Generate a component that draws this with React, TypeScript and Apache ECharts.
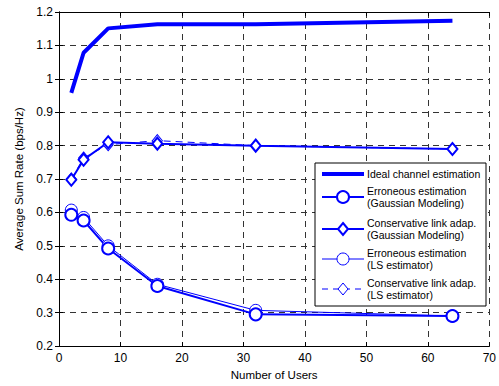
import React, { useEffect, useRef } from "react";
import * as echarts from "echarts";

const users = [2, 4, 8, 16, 32, 64];
const ideal = [0.958, 1.078, 1.151, 1.163, 1.163, 1.174];
const errGauss = [0.593, 0.576, 0.492, 0.38, 0.295, 0.29];
const consGauss = [0.698, 0.758, 0.81, 0.806, 0.8, 0.79];
const errLS = [0.607, 0.585, 0.5, 0.385, 0.307, 0.29];
const consLS = [0.7, 0.763, 0.803, 0.815, 0.8, 0.79];

const legendNames = [
  "Ideal channel estimation",
  "Erroneous estimation\n(Gaussian Modeling)",
  "Conservative link adap.\n(Gaussian Modeling)",
  "Erroneous estimation\n(LS estimator)",
  "Conservative link adap.\n(LS estimator)",
];

const BLUE = "#0000ff";
const FONT = "Liberation Sans";

const pair = (ys: number[]) => users.map((u, i) => [u, ys[i]]);

export default function App() {
  const ref = useRef<HTMLDivElement>(null);
  useEffect(() => {
    const chart = echarts.init(ref.current!, null, { renderer: "svg" });

    // Hand-drawn legend box with line/marker swatches
    const legendX = 315;
    const legendY = 163;
    const rowY = [174, 197, 229, 259, 289];
    const iconL = 322;
    const iconR = 364;
    const iconC = (iconL + iconR) / 2;
    const textX = 367;
    const graphics: any[] = [
      {
        type: "rect",
        shape: { x: legendX, y: legendY, width: 171, height: 143 },
        style: { fill: "#fff", stroke: "#000", lineWidth: 1 },
        z: 100,
      },
    ];
    const styles = [
      { w: 4, dash: null, mark: null, size: 0 },
      { w: 2, dash: null, mark: "circle", size: 6 },
      { w: 2, dash: null, mark: "diamond", size: 5 },
      { w: 1, dash: null, mark: "circle", size: 6 },
      { w: 1, dash: [6, 5], mark: "diamond", size: 5 },
    ];
    styles.forEach((s, i) => {
      const y = rowY[i];
      graphics.push({
        type: "line",
        shape: { x1: iconL, y1: y, x2: iconR, y2: y },
        style: { stroke: BLUE, lineWidth: s.w, lineDash: s.dash || undefined },
        z: 101,
      });
      if (s.mark === "circle") {
        graphics.push({
          type: "circle",
          shape: { cx: iconC, cy: y, r: s.size },
          style: { fill: "#fff", stroke: BLUE, lineWidth: s.w },
          z: 102,
        });
      } else if (s.mark === "diamond") {
        const r = s.size;
        graphics.push({
          type: "polygon",
          shape: {
            points: [
              [iconC, y - r - 1],
              [iconC + r, y],
              [iconC, y + r + 1],
              [iconC - r, y],
            ],
          },
          style: { fill: "#fff", stroke: BLUE, lineWidth: s.w },
          z: 102,
        });
      }
      graphics.push({
        type: "text",
        x: textX,
        y: y,
        style: {
          text: legendNames[i],
          font: `10.5px "${FONT}"`,
          fill: "#000",
          verticalAlign: "middle",
          lineHeight: 12.5,
        },
        z: 102,
      });
    });

    const line = (
      name: string,
      ys: number[],
      width: number,
      symbol: string,
      size: any,
      dashed = false
    ) => ({
      name,
      type: "line",
      data: pair(ys),
      symbol,
      symbolSize: size,
      showSymbol: symbol !== "none",
      lineStyle: { color: BLUE, width, type: dashed ? [7, 5] : "solid" },
      itemStyle: { color: "#fff", borderColor: BLUE, borderWidth: width },
      z: 5,
    });

    const fmt = (v: number) => String(parseFloat(v.toFixed(1)));
    const tickStyle = { color: "#000", fontFamily: FONT, fontSize: 12 };

    chart.setOption({
      animation: false,
      backgroundColor: "#fff",
      grid: { left: 59, right: 8, top: 12, bottom: 34 },
      xAxis: [
        {
          type: "value",
          min: 0,
          max: 70,
          interval: 10,
          name: "Number of Users",
          nameLocation: "middle",
          nameGap: 22,
          nameTextStyle: { color: "#000", fontFamily: FONT, fontSize: 11.5 },
          axisLine: { lineStyle: { color: "#000", width: 1 } },
          axisTick: { inside: true, length: 4, lineStyle: { color: "#000" } },
          axisLabel: { ...tickStyle, margin: 6 },
          splitLine: { show: true, lineStyle: { color: "#333", type: [6, 5], width: 1 } },
        },
        {
          type: "value",
          position: "top",
          min: 0,
          max: 70,
          interval: 10,
          axisLine: { lineStyle: { color: "#000", width: 1 } },
          axisTick: { inside: true, length: 4, lineStyle: { color: "#000" } },
          axisLabel: { show: false },
          splitLine: { show: false },
        },
      ],
      yAxis: [
        {
          type: "value",
          min: 0.2,
          max: 1.2,
          interval: 0.1,
          name: "Average Sum Rate (bps/Hz)",
          nameLocation: "middle",
          nameGap: 32,
          nameTextStyle: { color: "#000", fontFamily: FONT, fontSize: 11.5 },
          axisLine: { show: true, lineStyle: { color: "#000", width: 1 } },
          axisTick: { show: true, inside: true, length: 4, lineStyle: { color: "#000" } },
          axisLabel: { ...tickStyle, margin: 6, formatter: fmt },
          splitLine: { show: true, lineStyle: { color: "#333", type: [6, 5], width: 1 } },
        },
        {
          type: "value",
          position: "right",
          min: 0.2,
          max: 1.2,
          interval: 0.1,
          axisLine: { show: true, lineStyle: { color: "#000", width: 1 } },
          axisTick: { show: true, inside: true, length: 4, lineStyle: { color: "#000" } },
          axisLabel: { show: false },
          splitLine: { show: false },
        },
      ],
      series: [
        line("Conservative link adap. (LS estimator)", consLS, 1, "diamond", [10, 12], true),
        line("Erroneous estimation (LS estimator)", errLS, 1, "circle", 12),
        line("Conservative link adap. (Gaussian Modeling)", consGauss, 2, "diamond", [10, 12]),
        line("Erroneous estimation (Gaussian Modeling)", errGauss, 2, "circle", 12),
        line("Ideal channel estimation", ideal, 4, "none", 0),
      ],
      graphic: graphics,
    });
    return () => chart.dispose();
  }, []);
  return (
    <div
      ref={ref}
      style={{ position: "fixed", left: 0, top: 0, width: 499, height: 386 }}
    />
  );
}
